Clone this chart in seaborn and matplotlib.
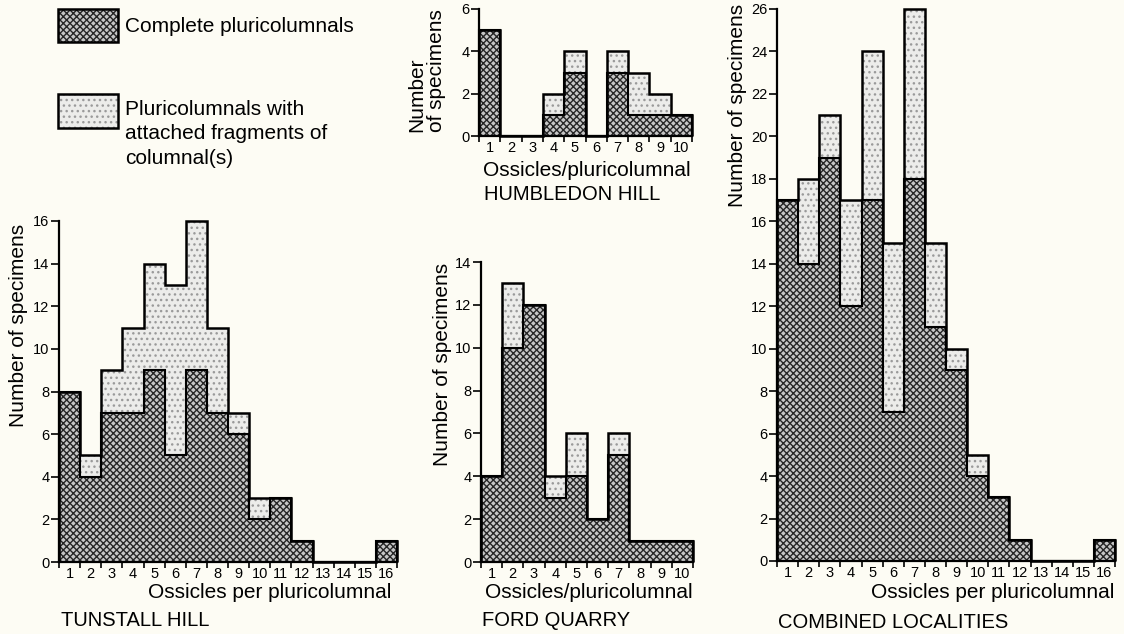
import numpy as np
import pandas as pd
import matplotlib
import matplotlib.pyplot as plt
import seaborn as sns
from matplotlib.patches import Rectangle

matplotlib.use("Agg")

# ── Data: counts per number of ossicles ─────────────────────────────────────
tunstall_ossicles = list(range(1, 17))
tunstall_complete = [8, 4, 7, 7, 9, 5, 9, 7, 6, 2, 3, 1, 0, 0, 0, 1]
tunstall_total = [8, 5, 9, 11, 14, 13, 16, 11, 7, 3, 3, 1, 0, 0, 0, 1]

humbledon_ossicles = list(range(1, 11))
humbledon_complete = [5, 0, 0, 1, 3, 0, 3, 1, 1, 1]
humbledon_total = [5, 0, 0, 2, 4, 0, 4, 3, 2, 1]

ford_ossicles = list(range(1, 11))
ford_complete = [4, 10, 12, 3, 4, 2, 5, 1, 1, 1]
ford_total = [4, 13, 12, 4, 6, 2, 6, 1, 1, 1]

combined_ossicles = list(range(1, 17))
combined_complete = [17, 14, 19, 12, 17, 7, 18, 11, 9, 4, 3, 1, 0, 0, 0, 1]
combined_total = [17, 18, 21, 17, 24, 15, 26, 15, 10, 5, 3, 1, 0, 0, 0, 1]

BG = "#fdfcf4"
DARK_FACE, DARK_HATCH = "#c6c6c6", "#262626"
LIGHT_FACE, LIGHT_HATCH = "#ececea", "#9a9a9a"
MAIN_FONT = ["Liberation Sans", "DejaVu Sans"]
TICK_FONT = ["Liberation Sans Narrow", "Liberation Sans", "DejaVu Sans"]

sns.set_theme(style="ticks")
plt.rcParams["font.family"] = MAIN_FONT
plt.rcParams["hatch.linewidth"] = 1.0
plt.rcParams["axes.facecolor"] = BG
plt.rcParams["figure.facecolor"] = BG
plt.rcParams["text.color"] = "black"
plt.rcParams["xtick.color"] = "black"
plt.rcParams["ytick.color"] = "black"
plt.rcParams["xtick.labelcolor"] = "black"
plt.rcParams["ytick.labelcolor"] = "black"

W, H = 1124, 634
fig = plt.figure(figsize=(W / 100, H / 100), dpi=100)


def px_axes(left, top, right, bottom):
    """Axes from pixel box (origin top-left)."""
    return fig.add_axes([left / W, 1 - bottom / H, (right - left) / W, (bottom - top) / H])


def _style_patches(ax, start, face, hatch_col, hatch):
    for p in ax.patches[start:]:
        p.set_facecolor(face)
        p.set_edgecolor(hatch_col)
        p.set_linewidth(0)
        p.set_hatch(hatch)


def draw_panel(ax, ossicles, complete, total, ymax, ystep):
    df = pd.DataFrame({"ossicles": ossicles, "complete": complete, "total": total})
    n = len(ossicles)

    # light stippled bars (total), then dense dotted bars (complete) on top
    sns.histplot(data=df, x="ossicles", weights="total", discrete=True,
                 shrink=1, ax=ax, legend=False)
    _style_patches(ax, 0, LIGHT_FACE, LIGHT_HATCH, "...")
    k = len(ax.patches)
    sns.histplot(data=df, x="ossicles", weights="complete", discrete=True,
                 shrink=1, ax=ax, legend=False)
    _style_patches(ax, k, DARK_FACE, DARK_HATCH, "xxxxx")

    edges = np.arange(0.5, n + 1.0, 1.0)
    ax.stairs(df["total"], edges, baseline=0, color="black", lw=1.8, clip_on=False, zorder=3)
    ax.stairs(df["complete"], edges, baseline=0, color="black", lw=1.5, clip_on=False, zorder=3)

    ax.set_xlim(0.5, n + 0.5)
    ax.set_ylim(0, ymax)
    ax.set_xticks(edges, labels=[""] * len(edges))
    ax.set_xticks(df["ossicles"], labels=[str(v) for v in ossicles], minor=True)
    ax.set_yticks(np.arange(0, ymax + 1, ystep))
    ax.tick_params(axis="x", which="major", direction="out", length=4, width=1.2)
    ax.tick_params(axis="x", which="minor", length=0, pad=3.5, labelsize=10.5)
    ax.tick_params(axis="y", direction="out", length=6, width=1.2, pad=1, labelsize=10.5)
    for lab in ax.get_xticklabels(minor=True) + ax.get_yticklabels():
        lab.set_family(TICK_FONT)
    sns.despine(ax=ax)
    for s in ("left", "bottom"):
        ax.spines[s].set_linewidth(1.6)
        ax.spines[s].set_color("black")
    ax.set_xlabel("")
    ax.set_ylabel("")
    ax.set_facecolor(BG)


def ylabel(ax, text, x, y, **kw):
    ax.text(x, y, text, transform=ax.transAxes, rotation=90, fontsize=15,
            ha="center", **kw)


def xlabel(ax, text, right_px, y_px):
    fig.text(right_px / W, 1 - y_px / H, text, fontsize=15, ha="right", va="center")


def place(x_px, y_px, text):
    fig.text(x_px / W, 1 - y_px / H, text, fontsize=14.5, ha="left", va="center")


# ── Tunstall Hill ───────────────────────────────────────────────────────────
ax1 = px_axes(59, 221, 397, 562)
draw_panel(ax1, tunstall_ossicles, tunstall_complete, tunstall_total, 16, 2)
ylabel(ax1, "Number of specimens", -0.121, 0.695, va="center")
xlabel(ax1, "Ossicles per pluricolumnal", 391, 593)
place(61, 621, "TUNSTALL HILL")

# ── Humbledon Hill ──────────────────────────────────────────────────────────
ax2 = px_axes(479, 9, 692, 136)
draw_panel(ax2, humbledon_ossicles, humbledon_complete, humbledon_total, 6, 2)
ax2.text(-0.244, 0.03, "Number\nof specimens", transform=ax2.transAxes, rotation=90,
         fontsize=15, ha="center", va="bottom", multialignment="left", linespacing=1.05)
xlabel(ax2, "Ossicles/pluricolumnal", 691, 171)
place(484, 195, "HUMBLEDON HILL")

# ── Ford Quarry ─────────────────────────────────────────────────────────────
ax3 = px_axes(481, 262, 693, 562)
draw_panel(ax3, ford_ossicles, ford_complete, ford_total, 14, 2)
ylabel(ax3, "Number of specimens", -0.18, 0.66, va="center")
xlabel(ax3, "Ossicles/pluricolumnal", 693, 593)
place(482, 621, "FORD QUARRY")

# ── Combined localities ─────────────────────────────────────────────────────
ax4 = px_axes(777, 9, 1115, 561)
draw_panel(ax4, combined_ossicles, combined_complete, combined_total, 26, 2)
ylabel(ax4, "Number of specimens", -0.118, 0.825, va="center")
xlabel(ax4, "Ossicles per pluricolumnal", 1114, 593)
place(778, 622, "COMBINED LOCALITIES")

# ── Legend (drawn as boxes + text) ──────────────────────────────────────────
legend_boxes = [((9, 42), DARK_FACE, DARK_HATCH, "xxxxx"),
                ((94, 128), LIGHT_FACE, LIGHT_HATCH, "...")]
for (y0, y1), face, hcol, hatch in legend_boxes:
    fig.add_artist(Rectangle((58 / W, 1 - y1 / H), 60 / W, (y1 - y0) / H,
                             transform=fig.transFigure, facecolor=face,
                             edgecolor=hcol, hatch=hatch, lw=0))
    fig.add_artist(Rectangle((58 / W, 1 - y1 / H), 60 / W, (y1 - y0) / H,
                             transform=fig.transFigure, fill=False,
                             edgecolor="black", lw=1.8))
fig.text(125 / W, 1 - 27 / H, "Complete pluricolumnals", fontsize=15, va="center")
fig.text(125 / W, 1 - 100 / H, "Pluricolumnals with\nattached fragments of\ncolumnal(s)",
         fontsize=15, va="top", linespacing=1.35)

fig.savefig("out.png", dpi=100, facecolor=BG)
